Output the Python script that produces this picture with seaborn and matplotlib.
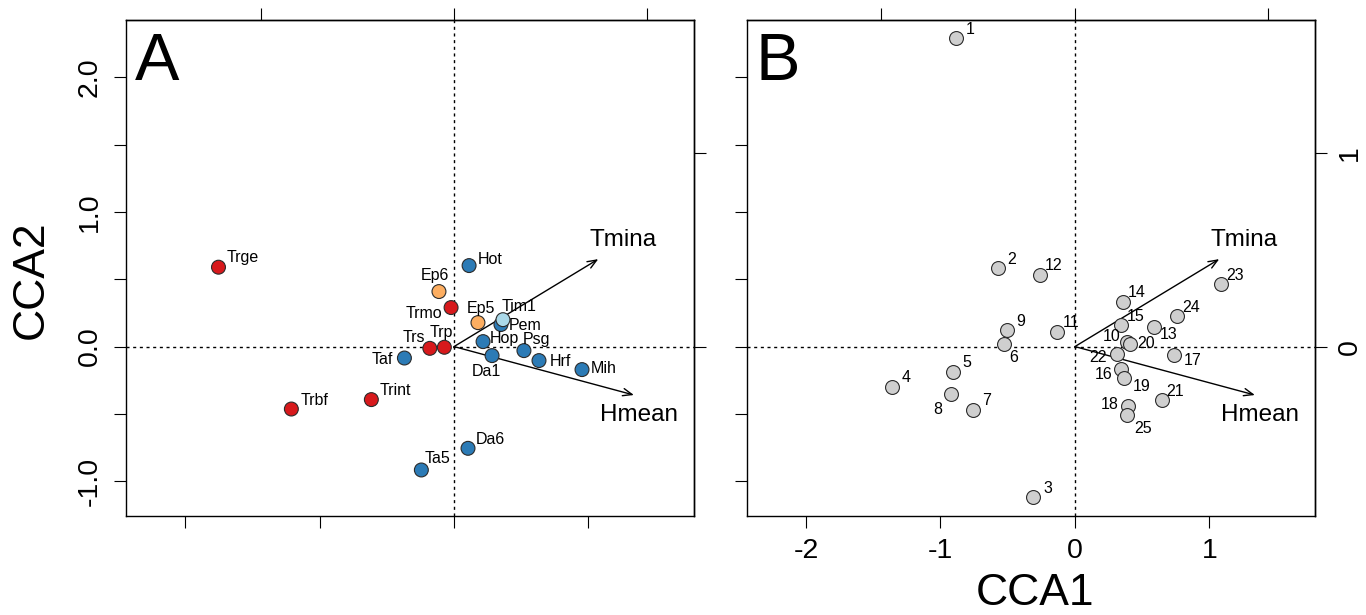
#!/usr/bin/env python3

"""
Biplot CCA: especies (A) y sitios (B) con las variables ambientales
Tmina y Hmean como flechas.
"""

import matplotlib
matplotlib.use('Agg')
import matplotlib.pyplot as plt
import pandas as pd
import seaborn as sns

# -----------------------------------------------------------------------------
# Datos
# -----------------------------------------------------------------------------
# Panel A: scores de especies
especies = ['Trge', 'Trbf', 'Trint', 'Taf', 'Trs', 'Trp', 'Trmo', 'Ep6',
            'Ep5', 'Hot', 'Pem', 'Tim1', 'Hop', 'Psg', 'Hrf', 'Mih', 'Da1',
            'Da6', 'Ta5']
esp_cca1 = [-1.752, -1.210, -0.615, -0.369, -0.180, -0.072, -0.022, -0.112,
            0.178, 0.112, 0.349, 0.364, 0.216, 0.520, 0.632, 0.952, 0.283,
            0.104, -0.243]
esp_cca2 = [0.590, -0.464, -0.394, -0.085, -0.013, -0.005, 0.290, 0.409,
            0.178, 0.602, 0.164, 0.200, 0.037, -0.030, -0.104, -0.171, -0.067,
            -0.756, -0.917]
esp_grupo = ['g1', 'g1', 'g1', 'g4', 'g1', 'g1', 'g1', 'g2',
             'g2', 'g4', 'g4', 'g3', 'g4', 'g4', 'g4', 'g4', 'g4',
             'g4', 'g4']

# Panel B: scores de sitios
sitios = [str(i) for i in range(1, 26)]
sit_cca1 = [-0.885, -0.574, -0.308, -1.361, -0.906, -0.527, -0.759, -0.924,
            -0.507, 0.390, -0.132, -0.262, 0.587, 0.357, 0.345, 0.342, 0.739,
            0.394, 0.367, 0.410, 0.644, 0.312, 1.088, 0.757, 0.387]
sit_cca2 = [2.293, 0.582, -1.118, -0.300, -0.187, 0.017, -0.469, -0.350,
            0.122, 0.035, 0.112, 0.532, 0.147, 0.332, 0.160, -0.167, -0.060,
            -0.440, -0.230, 0.020, -0.400, -0.052, 0.463, 0.225, -0.507]

# Flechas de variables ambientales
variables = ['Tmina', 'Hmean']
var_cca1 = [1.073, 1.338]
var_cca2 = [0.650, -0.360]
# escala de las flechas (ejes superior y derecho)
mul = 1.438

# -----------------------------------------------------------------------------
# Estilo
# -----------------------------------------------------------------------------
colores = {'g1': '#d7191c', 'g2': '#fdae61', 'g3': '#abd9e9', 'g4': '#2c7bb6'}
gris = '#cfcfcf'
borde = '#2b2b2b'

# desplazamiento de etiquetas en pixeles (dx, dy hacia abajo)
off_esp = {'Trge': (24, -10), 'Trbf': (23, -9), 'Trint': (24, -9),
           'Taf': (-22, 1), 'Trs': (-16, -11), 'Trp': (-3, -15),
           'Trmo': (-27, 6), 'Ep6': (-4, -16), 'Ep5': (3, -14),
           'Hot': (21, -6), 'Tim1': (16, -13), 'Pem': (24, 1),
           'Hop': (21, -3), 'Psg': (13, -11), 'Hrf': (21, 1),
           'Mih': (22, -1), 'Da1': (-6, 16), 'Da6': (22, -9),
           'Ta5': (16, -11)}
off_sit = {'13': (15, 8), '6': (10, 13), '10': (-16, -5), '20': (16, 0),
           '22': (-19, 4), '17': (18, 6), '16': (-17, 5), '19': (17, 9),
           '8': (-13, 16), '18': (-18, -1), '25': (16, 14)}
off_def = (14, -9)
off_var = {'Tmina': (25, -19.5), 'Hmean': (5, 20)}

px = 0.72  # pixeles -> puntos (dpi 100)

sns.set_theme(style='ticks')
plt.rcParams['font.family'] = ['Liberation Sans', 'DejaVu Sans']
plt.rcParams['axes.unicode_minus'] = False
plt.rcParams['text.color'] = 'black'
plt.rcParams['axes.labelcolor'] = 'black'
plt.rcParams['xtick.color'] = 'black'
plt.rcParams['ytick.color'] = 'black'

xlim = (-2.44, 1.785)
ylim = (-1.259, 2.427)

df_esp = pd.DataFrame({'nombre': especies, 'CCA1': esp_cca1,
                       'CCA2': esp_cca2, 'grupo': esp_grupo})
df_sit = pd.DataFrame({'nombre': sitios, 'CCA1': sit_cca1, 'CCA2': sit_cca2})

fig = plt.figure(figsize=(13.66, 6.15), dpi=100)
W, H = 1366, 615
ax_a = fig.add_axes([126 / W, 1 - 516 / H, 568 / W, 496 / H])
ax_b = fig.add_axes([746.7 / W, 1 - 516 / H, 568.3 / W, 496 / H])


def marco(ax):
    ax.set_xlim(*xlim)
    ax.set_ylim(*ylim)
    ax.set_xlabel('')
    ax.set_ylabel('')
    for s in ax.spines.values():
        s.set_visible(True)
        s.set_linewidth(1.0)
        s.set_color('black')
    ax.axhline(0, ls=(0, (2.2, 2.6)), lw=1, color='black', zorder=1)
    ax.axvline(0, ls=(0, (2.2, 2.6)), lw=1, color='black', zorder=1)
    ax.tick_params(direction='out', length=8.6, width=0.8, colors='black',
                   labelsize=20.5)
    ax.set_xticks([-2, -1, 0, 1])
    ax.set_yticks([-1, -0.5, 0, 0.5, 1, 1.5, 2])
    # ejes de las flechas
    sx = ax.secondary_xaxis('top', functions=(lambda x: x / mul,
                                              lambda x: x * mul))
    sy = ax.secondary_yaxis('right', functions=(lambda y: y / mul,
                                                lambda y: y * mul))
    sx.set_xticks([-1, 0, 1])
    sx.set_xticklabels([])
    sy.set_yticks([0, 1])
    for s in (sx, sy):
        s.tick_params(direction='out', length=8.6, width=0.8,
                      colors='black', labelsize=20.5, pad=7)
        for sp in s.spines.values():
            sp.set_linewidth(1.0)
            sp.set_color('black')
    # flechas
    for nom, x, y in zip(variables, var_cca1, var_cca2):
        ax.annotate('', xy=(x, y), xytext=(0, 0),
                    arrowprops=dict(arrowstyle='->,head_length=0.55,'
                                    'head_width=0.22',
                                    color='black', lw=1,
                                    shrinkA=0, shrinkB=0), zorder=2)
        dx, dy = off_var[nom]
        ax.annotate(nom, xy=(x, y), xytext=(dx * px, -dy * px),
                    textcoords='offset points', ha='center', va='center',
                    fontsize=17.5, color='black')
    return sy


# Panel A ----------------------------------------------------------------------
sns.scatterplot(data=df_esp, x='CCA1', y='CCA2', hue='grupo',
                palette=colores, s=100, edgecolor=borde, linewidth=0.8,
                legend=False, ax=ax_a, zorder=3)
sy_a = marco(ax_a)
sy_a.set_yticklabels([])
ax_a.set_xticklabels([])
ax_a.set_yticklabels(['-1.0', '', '0.0', '', '1.0', '', '2.0'],
                     rotation=90, va='center')
ax_a.tick_params(axis='y', pad=8)
for nom, x, y in zip(especies, esp_cca1, esp_cca2):
    dx, dy = off_esp[nom]
    ax_a.annotate(nom, xy=(x, y), xytext=(dx * px, -dy * px),
                  textcoords='offset points', ha='center', va='center',
                  fontsize=11.5, zorder=4)
ax_a.text(0.016, 0.976, 'A', transform=ax_a.transAxes, ha='left', va='top',
          fontsize=48, color='black')

# Panel B ----------------------------------------------------------------------
sns.scatterplot(data=df_sit, x='CCA1', y='CCA2', color=gris, s=100,
                edgecolor=borde, linewidth=0.8, legend=False, ax=ax_b,
                zorder=3)
sy_b = marco(ax_b)
sy_b.set_yticklabels(['0', '1'], rotation=90, va='center')
ax_b.set_yticklabels([])
ax_b.set_xticklabels(['-2', '-1', '0', '1'])
ax_b.tick_params(axis='x', pad=7)
for nom, x, y in zip(sitios, sit_cca1, sit_cca2):
    dx, dy = off_sit.get(nom, off_def)
    ax_b.annotate(nom, xy=(x, y), xytext=(dx * px, -dy * px),
                  textcoords='offset points', ha='center', va='center',
                  fontsize=11.5, zorder=4)
ax_b.text(0.016, 0.976, 'B', transform=ax_b.transAxes, ha='left', va='top',
          fontsize=48, color='black')

# Etiquetas de ejes
fig.text(31 / W, 1 - 280 / H, 'CCA2', rotation=90, ha='center', va='center',
         fontsize=32, color='black')
fig.text(1035 / W, 1 - 605 / H, 'CCA1', ha='center', va='baseline',
         fontsize=32, color='black')

fig.savefig('out.png', dpi=100)
